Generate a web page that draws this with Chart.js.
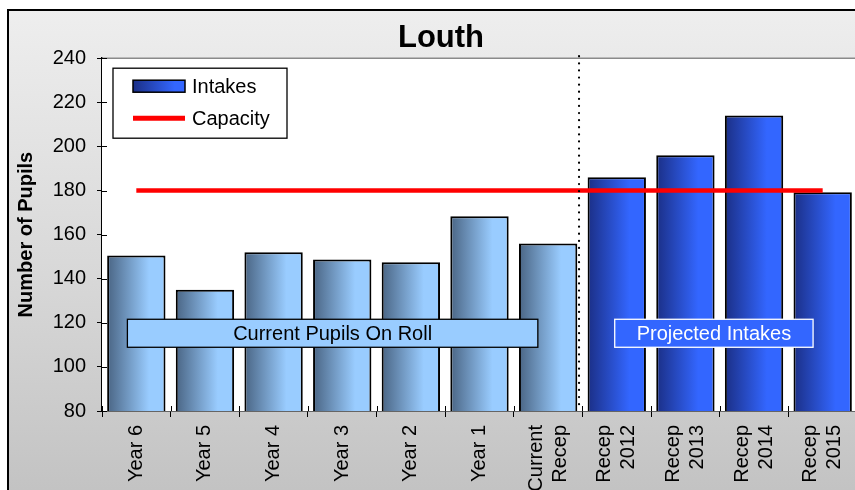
<!DOCTYPE html>
<html>
<head>
<meta charset="utf-8">
<script src="https://cdn.jsdelivr.net/npm/chart.js@4/dist/chart.umd.min.js"></script>
<style>
  html, body { margin: 0; padding: 0; width: 855px; height: 490px; overflow: hidden; background: #fff; }
  #wrap { position: relative; width: 855px; height: 490px; overflow: hidden; }
  #c { position: absolute; left: 0; top: 0; }
</style>
</head>
<body>
<div id="wrap">
<canvas id="c" width="862" height="490"></canvas>
</div>
<script>
// ---- data ----
const chartTitle = 'Louth';
const categories = [
  'Year 6', 'Year 5', 'Year 4', 'Year 3', 'Year 2', 'Year 1',
  ['Current', 'Recep'], ['Recep', '2012'], ['Recep', '2013'], ['Recep', '2014'], ['Recep', '2015']
];
const intakes  = [150.5, 135, 152, 148.7, 147.5, 168.3, 156, 186, 196, 214, 179.2];
const capacity = [180, 180, 180, 180, 180, 180, 180, 180, 180, 180, 180];
const projectedFrom = 7;            // first projected category index
const sectionLabels = ['Current Pupils On Roll', 'Projected Intakes'];
const yTicks = { min: 80, max: 240, step: 20 };
const yAxisTitle = 'Number of Pupils';

const FONT = "'Liberation Sans', Arial, sans-serif";
const BAR_PCT = 0.85;
const TICK_SIZE = 20;
const TICK_LH = 24;   // line height of two-line category labels

function barGradient(ctx) {
  const chart = ctx.chart;
  const x = chart.scales && chart.scales.x;
  const projected = ctx.dataIndex >= projectedFrom;
  const dark = projected ? '#1b2f86' : '#4a6584';
  const light = projected ? '#3366ff' : '#99ccff';
  if (!chart.chartArea || !x) return light;
  const c = x.getPixelForValue(ctx.dataIndex);
  const half = (x.width / categories.length) * BAR_PCT / 2;
  const g = chart.ctx.createLinearGradient(c - half, 0, c + half, 0);
  g.addColorStop(0, dark);
  g.addColorStop(0.72, light);
  g.addColorStop(1, light);
  return g;
}

const decor = {
  id: 'decor',
  beforeDraw(chart) {
    // outer chart frame: grey vertical gradient with black left/top border
    const { ctx, width, height } = chart;
    ctx.save();
    const g = ctx.createLinearGradient(0, 9, 0, height);
    g.addColorStop(0, '#eeeeee'); g.addColorStop(0.55, '#d8d8d8'); g.addColorStop(1, '#c3c3c3');
    ctx.fillStyle = g;
    ctx.fillRect(8, 10, width - 8, height - 10);
    ctx.fillStyle = '#000';
    ctx.fillRect(7, 9, width - 7, 2);
    ctx.fillRect(7, 9, 2, height - 9);
    ctx.restore();
  },
  beforeDatasetsDraw(chart) {
    const { ctx, chartArea: a } = chart;
    ctx.save();
    ctx.fillStyle = '#ffffff';
    ctx.fillRect(a.left, a.top, a.right - a.left, a.bottom - a.top);
    ctx.strokeStyle = '#8a8a8a';
    ctx.lineWidth = 1.5;
    ctx.beginPath(); ctx.moveTo(a.left, a.top); ctx.lineTo(a.right, a.top); ctx.stroke();
    ctx.restore();
  },
  afterDatasetsDraw(chart) {
    const { ctx, chartArea: a, scales: { x, y } } = chart;
    ctx.save();
    // dotted divider between current and projected
    const dx = x.getPixelForValue(projectedFrom - 0.55);
    ctx.strokeStyle = '#000';
    ctx.lineWidth = 2.2;
    ctx.lineCap = 'round';
    ctx.setLineDash([0.1, 7]);
    ctx.beginPath(); ctx.moveTo(dx, a.top - 2); ctx.lineTo(dx, a.bottom); ctx.stroke();
    ctx.setLineDash([]);
    ctx.lineCap = 'butt';

    // section label boxes
    const yt = y.getPixelForValue(121.6), yb = y.getPixelForValue(108.9);
    const boxes = [
      { from: -0.13, to: 5.85, fill: '#99ccff', stroke: '#000000', text: '#000000', label: sectionLabels[0] },
      { from: 6.97, to: 9.86, fill: '#3366ff', stroke: '#ffffff', text: '#ffffff', label: sectionLabels[1] }
    ];
    ctx.font = '20px ' + FONT;
    ctx.textAlign = 'center';
    ctx.textBaseline = 'middle';
    boxes.forEach(b => {
      const l = x.getPixelForValue(b.from), r = x.getPixelForValue(b.to);
      ctx.fillStyle = b.fill;
      ctx.fillRect(l, yt, r - l, yb - yt);
      ctx.strokeStyle = b.stroke;
      ctx.lineWidth = 1.3;
      ctx.strokeRect(l, yt, r - l, yb - yt);
      ctx.fillStyle = b.text;
      ctx.fillText(b.label, (l + r) / 2, (yt + yb) / 2 + 1);
    });

    // inner tick stubs (ticks crossing the axes)
    ctx.strokeStyle = '#000';
    ctx.lineWidth = 1;
    y.ticks.forEach((t, i) => {
      const py = Math.round(y.getPixelForTick(i)) + 0.5;
      ctx.beginPath(); ctx.moveTo(a.left, py); ctx.lineTo(a.left + 5, py); ctx.stroke();
    });
    for (let i = 0; i < categories.length; i++) {
      const px = Math.round(x.getPixelForValue(i - 0.5)) + 0.5;
      ctx.beginPath(); ctx.moveTo(px, a.bottom); ctx.lineTo(px, a.bottom - 5); ctx.stroke();
    }
    ctx.restore();
  },
  afterDraw(chart) {
    const { ctx, chartArea: a } = chart;
    const ds = chart.data.datasets;
    const bx = a.left + 11, by = a.top + 10, bw = 174, bh = 70;
    ctx.save();
    ctx.fillStyle = '#fff';
    ctx.fillRect(bx, by, bw, bh);
    ctx.strokeStyle = '#000';
    ctx.lineWidth = 1.3;
    ctx.strokeRect(bx, by, bw, bh);
    // Intakes swatch
    const sx = bx + 20, sw = 52;
    const g = ctx.createLinearGradient(sx, 0, sx + sw, 0);
    g.addColorStop(0, '#1b2f86'); g.addColorStop(0.8, '#3366ff'); g.addColorStop(1, '#3366ff');
    ctx.fillStyle = g;
    ctx.fillRect(sx, by + 12, sw, 12);
    ctx.lineWidth = 1.5;
    ctx.strokeRect(sx, by + 12, sw, 12);
    // Capacity swatch
    ctx.strokeStyle = '#ff0000';
    ctx.lineWidth = 5;
    ctx.beginPath(); ctx.moveTo(sx, by + 50); ctx.lineTo(sx + sw, by + 50); ctx.stroke();
    ctx.fillStyle = '#000';
    ctx.font = '20px ' + FONT;
    ctx.textAlign = 'left';
    ctx.textBaseline = 'middle';
    const barDs = ds.find(d => d.type === 'bar');
    const lineDs = ds.find(d => d.type === 'line');
    ctx.fillText(barDs.label, bx + 79, by + 19);
    ctx.fillText(lineDs.label, bx + 79, by + 51);
    ctx.restore();
  }
};

new Chart(document.getElementById('c'), {
  data: {
    labels: categories,
    datasets: [
      {
        type: 'line', label: 'Capacity', data: capacity, order: 0,
        borderColor: '#ff0000', borderWidth: 4.5, pointRadius: 0, fill: false, tension: 0
      },
      {
        type: 'bar', label: 'Intakes', data: intakes, order: 1,
        backgroundColor: barGradient, borderColor: '#000', borderWidth: 2,
        categoryPercentage: 1, barPercentage: BAR_PCT
      }
    ]
  },
  options: {
    responsive: false,
    animation: false,
    devicePixelRatio: 1,
    layout: { padding: { left: 25, right: 5, top: 0, bottom: 0 } },
    plugins: {
      legend: { display: false },
      tooltip: { enabled: false },
      title: {
        display: true, text: chartTitle, color: '#000',
        font: { family: FONT, size: 31, weight: 'bold' },
        padding: { top: 20, bottom: 1 }
      }
    },
    scales: {
      x: {
        type: 'category',
        offset: true,
        grid: { display: true, drawOnChartArea: false, offset: true, tickLength: 6, color: '#000', lineWidth: 1 },
        border: { display: true, color: '#000', width: 1.5 },
        ticks: {
          color: '#000', autoSkip: false,
          minRotation: 90, maxRotation: 90, padding: 8,
          labelOffset: -TICK_LH / 2,
          // centre every label block on its tick: single-line labels get a
          // half-height leading blank line
          callback(value, index) {
            const lab = categories[index];
            return Array.isArray(lab) ? lab : ['', lab];
          },
          font(ctx) {
            const lab = categories[ctx.index];
            return { family: FONT, size: TICK_SIZE,
                     lineHeight: (Array.isArray(lab) ? TICK_LH : TICK_LH / 2) + 'px' };
          }
        },
        afterFit(s) { s.height = 79; s.paddingLeft = 0; s.paddingRight = 0; }
      },
      y: {
        min: yTicks.min, max: yTicks.max,
        grid: { display: true, drawOnChartArea: false, tickLength: 5, color: '#000', lineWidth: 1 },
        border: { display: true, color: '#000', width: 1.5 },
        ticks: { stepSize: yTicks.step, color: '#000', font: { family: FONT, size: TICK_SIZE }, padding: 11 },
        title: {
          display: true, text: yAxisTitle, color: '#000',
          font: { family: FONT, size: 20, weight: 'bold' },
          padding: { top: -11, bottom: 0 }
        },
        afterFit(s) { s.width = 77; }
      }
    }
  },
  plugins: [decor]
});
</script>
</body>
</html>
